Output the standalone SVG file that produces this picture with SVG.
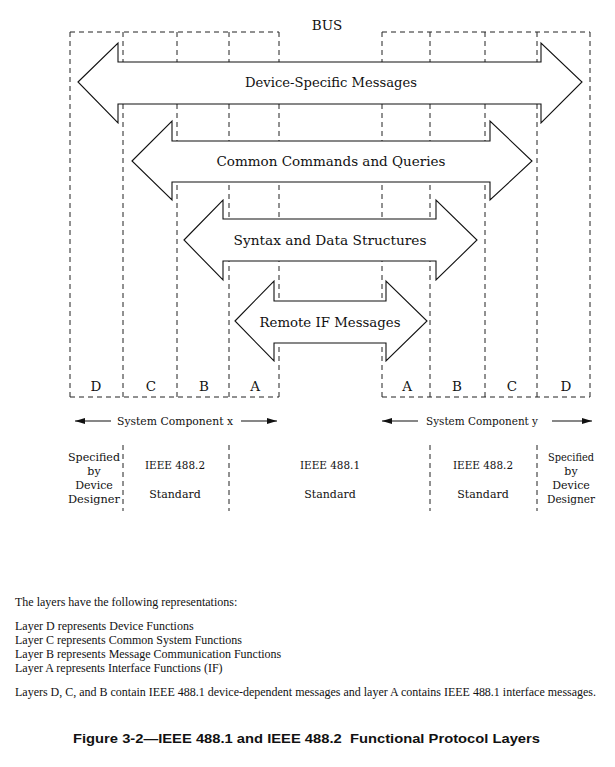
<svg xmlns="http://www.w3.org/2000/svg" width="615" height="767" viewBox="0 0 615 767">
<style>
.dash{fill:none;stroke:#222;stroke-width:1;stroke-dasharray:5,4}
.arrow{fill:#fff;stroke:#111;stroke-width:1.1}
.lbl{font-family:"DejaVu Serif","Liberation Serif",serif;fill:#111;text-anchor:middle}
.big{font-size:13.5px}
.mid{font-size:11.5px}
.sm{font-size:11px}
.body{font-family:"Liberation Serif",serif;font-size:12px;fill:#111}
.title{font-family:"Liberation Sans",Arial,sans-serif;font-weight:bold;font-size:13.5px;fill:#111}
.ln{stroke:#111;stroke-width:1.2}
</style>
<defs>
<marker id="ah" viewBox="0 0 10 6" refX="10" refY="3" markerWidth="10" markerHeight="6" markerUnits="userSpaceOnUse" orient="auto">
<path d="M0,0 L10,3 L0,6 Z" fill="#111"/>
</marker>
</defs>
<rect width="615" height="767" fill="#fff"/>

<g id="layers">
<path class="dash" d="M70,32 H279 M382,32 H590 M70,397 H279 M382,397 H590"/>
<path class="dash" d="M70,32 V397 M123,32 V397 M177,32 V397 M229,32 V397 M279,32 V397"/>
<path class="dash" d="M382,32 V397 M430,32 V397 M485,32 V397 M537,32 V397 M590,32 V397"/>
<path class="dash" d="M123,445 V511 M229,445 V511 M430,445 V511 M537,445 V511"/>
</g>

<text class="lbl big" x="327" y="30">BUS</text>

<g id="connectors">
<g id="arrow-device-specific">
<polygon class="arrow" points="78,82 118,43 118,62 541,62 541,43 582,82 541,123 541,104 118,104 118,123"/>
<text class="lbl big" x="331" y="87" textLength="172" lengthAdjust="spacingAndGlyphs">Device-Specific Messages</text>
</g>
<g id="arrow-common">
<polygon class="arrow" points="132,161 172,121 172,141 490,141 490,121 532,161 490,200 490,182 172,182 172,200"/>
<text class="lbl big" x="331" y="166" textLength="229" lengthAdjust="spacingAndGlyphs">Common Commands and Queries</text>
</g>
<g id="arrow-syntax">
<polygon class="arrow" points="184,240 223,200 223,219 436,219 436,200 477,240 436,280 436,261 223,261 223,280"/>
<text class="lbl big" x="330" y="245" textLength="193" lengthAdjust="spacingAndGlyphs">Syntax and Data Structures</text>
</g>
<g id="arrow-remote">
<polygon class="arrow" points="235,321 274,281 274,301 386,301 386,281 427,321 386,361 386,343 274,343 274,361"/>
<text class="lbl big" x="330" y="327" textLength="141" lengthAdjust="spacingAndGlyphs">Remote IF Messages</text>
</g>
<g id="component-x-arrows">
<line class="ln" x1="111" y1="421" x2="75" y2="421" marker-end="url(#ah)"/>
<line class="ln" x1="241" y1="421" x2="277" y2="421" marker-end="url(#ah)"/>
</g>
<g id="component-y-arrows">
<line class="ln" x1="418" y1="421" x2="382" y2="421" marker-end="url(#ah)"/>
<line class="ln" x1="552" y1="421" x2="592" y2="421" marker-end="url(#ah)"/>
</g>
</g>

<g id="layer-letters">
<text class="lbl big" x="96" y="391">D</text>
<text class="lbl big" x="151" y="391">C</text>
<text class="lbl big" x="204" y="391">B</text>
<text class="lbl big" x="255" y="391">A</text>
<text class="lbl big" x="407" y="391">A</text>
<text class="lbl big" x="457" y="391">B</text>
<text class="lbl big" x="512" y="391">C</text>
<text class="lbl big" x="566" y="391">D</text>
</g>

<g id="component-x">
<text class="lbl mid" x="175" y="425" textLength="116" lengthAdjust="spacingAndGlyphs">System Component x</text>
</g>
<g id="component-y">
<text class="lbl mid" x="482" y="425" textLength="112" lengthAdjust="spacingAndGlyphs">System Component y</text>
</g>

<g id="left-designer">
<text class="lbl sm" x="94" y="461" textLength="52" lengthAdjust="spacingAndGlyphs">Specified</text>
<text class="lbl sm" x="94" y="475">by</text>
<text class="lbl sm" x="94" y="489">Device</text>
<text class="lbl sm" x="94" y="503" textLength="52" lengthAdjust="spacingAndGlyphs">Designer</text>
</g>
<g id="left-4882">
<text class="lbl sm" x="175" y="469" textLength="60" lengthAdjust="spacingAndGlyphs">IEEE 488.2</text>
<text class="lbl sm" x="175" y="498">Standard</text>
</g>
<g id="center-4881">
<text class="lbl sm" x="330" y="469" textLength="60" lengthAdjust="spacingAndGlyphs">IEEE 488.1</text>
<text class="lbl sm" x="330" y="498">Standard</text>
</g>
<g id="right-4882">
<text class="lbl sm" x="483" y="469" textLength="60" lengthAdjust="spacingAndGlyphs">IEEE 488.2</text>
<text class="lbl sm" x="483" y="498">Standard</text>
</g>
<g id="right-designer">
<text class="lbl sm" x="571" y="461" textLength="46" lengthAdjust="spacingAndGlyphs">Specified</text>
<text class="lbl sm" x="571" y="475">by</text>
<text class="lbl sm" x="571" y="489">Device</text>
<text class="lbl sm" x="571" y="503" textLength="48" lengthAdjust="spacingAndGlyphs">Designer</text>
</g>

<g id="notes">
<text class="body" x="15" y="606">The layers have the following representations:</text>
<text class="body" x="15" y="630">Layer D represents Device Functions</text>
<text class="body" x="15" y="644">Layer C represents Common System Functions</text>
<text class="body" x="15" y="658">Layer B represents Message Communication Functions</text>
<text class="body" x="15" y="672">Layer A represents Interface Functions (IF)</text>
<text class="body" x="15" y="696" textLength="581" lengthAdjust="spacingAndGlyphs">Layers D, C, and B contain IEEE 488.1 device-dependent messages and layer A contains IEEE 488.1 interface messages.</text>
</g>
<text class="title" x="73" y="743" textLength="467" lengthAdjust="spacingAndGlyphs" xml:space="preserve">Figure 3-2—IEEE 488.1 and IEEE 488.2  Functional Protocol Layers</text>
</svg>
